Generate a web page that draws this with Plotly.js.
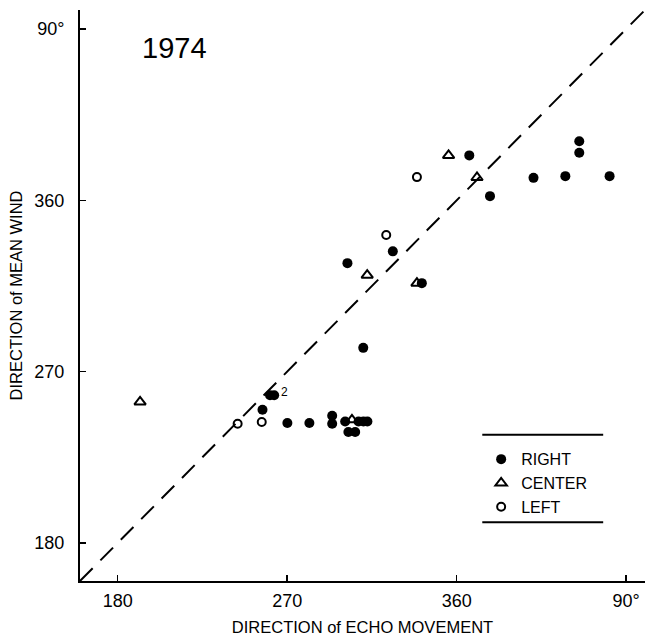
<!DOCTYPE html>
<html>
<head>
<meta charset="utf-8">
<script src="https://cdn.plot.ly/plotly-3.0.1.min.js"></script>
<style>html,body{margin:0;padding:0;background:#fff;}#chart{width:645px;height:641px;}</style>
</head>
<body>
<div id="chart"></div>
<script>
// Direction of echo movement (x) vs direction of mean wind (y), degrees; values above 360 wrap (450 = 90°)
const rightX = [366.7, 377.7, 400.8, 417.7, 441.2, 425.1, 425.1, 326.1, 302.0, 341.5, 310.4, 260.9, 263.1, 256.9, 270.1, 281.8, 293.9, 293.9, 300.8, 307.9, 310.5, 312.6, 302.5, 306.1];
const rightY = [383.6, 362.2, 371.8, 372.7, 372.7, 391.0, 385.0, 333.2, 327.0, 316.5, 282.5, 257.6, 257.6, 250.0, 243.0, 243.0, 246.8, 242.6, 243.8, 243.8, 243.8, 243.8, 238.3, 238.3];
const centerX = [355.7, 370.8, 312.5, 338.9, 304.4, 191.9];
const centerY = [383.6, 372.0, 320.7, 316.5, 244.7, 254.1];
const leftX = [338.9, 322.6, 243.7, 256.5];
const leftY = [372.2, 341.8, 242.6, 243.5];
const diagX = [160, 460];
const diagY = [160, 460];
const tickVals = [180, 270, 360, 450];
const tickText = ['180', '270', '360', '90°'];
const axisRange = [160, 460];

const FONT = 'Liberation Sans, Arial, sans-serif';

const traces = [
  {x: diagX, y: diagY, mode: 'lines', line: {color: '#000', width: 2, dash: '18px,11px'}, showlegend: false, hoverinfo: 'skip'},
  {x: rightX, y: rightY, mode: 'markers', name: 'RIGHT', marker: {symbol: 'circle', size: 10, color: '#000'}},
  {x: centerX, y: centerY, mode: 'markers', name: 'CENTER', marker: {symbol: 'triangle-up-open', size: 10, color: '#000', line: {width: 2, color: '#000'}}},
  {x: leftX, y: leftY, mode: 'markers', name: 'LEFT', marker: {symbol: 'circle-open', size: 8, color: '#000', line: {width: 2, color: '#000'}}}
];

const layout = {
  width: 645, height: 641,
  margin: {l: 80, r: 0, t: 10, b: 60},
  paper_bgcolor: '#fff', plot_bgcolor: '#fff',
  font: {family: FONT, color: '#000', size: 16},
  showlegend: true,
  legend: {x: 0.71, y: 0.243, xanchor: 'left', yanchor: 'top', font: {family: FONT, size: 16, color: '#000'}, bgcolor: 'rgba(0,0,0,0)', itemwidth: 30, tracegroupgap: 0},
  xaxis: {
    range: axisRange, tickmode: 'array', tickvals: tickVals, ticktext: tickText,
    showgrid: false, zeroline: false, showline: true, linecolor: '#000', linewidth: 2,
    ticks: 'inside', ticklen: 6, tickwidth: 1.5, tickcolor: '#000', ticklabelstandoff: 2,
    tickfont: {family: FONT, size: 18, color: '#000'},
    title: {text: 'DIRECTION of ECHO MOVEMENT', font: {family: FONT, size: 16.5, color: '#000'}, standoff: 12}
  },
  yaxis: {
    range: axisRange, tickmode: 'array', tickvals: tickVals, ticktext: tickText,
    showgrid: false, zeroline: false, showline: true, linecolor: '#000', linewidth: 2,
    ticks: 'inside', ticklen: 6, tickwidth: 1.5, tickcolor: '#000', ticklabelstandoff: 10,
    tickfont: {family: FONT, size: 18, color: '#000'},
    title: {text: 'DIRECTION of MEAN WIND', font: {family: FONT, size: 16.5, color: '#000'}, standoff: 8}
  },
  shapes: [
    {type: 'line', xref: 'paper', yref: 'paper', x0: 0.712, x1: 0.926, y0: 0.256, y1: 0.256, line: {color: '#000', width: 2}},
    {type: 'line', xref: 'paper', yref: 'paper', x0: 0.712, x1: 0.926, y0: 0.103, y1: 0.103, line: {color: '#000', width: 2}}
  ],
  annotations: [
    {xref: 'paper', yref: 'paper', x: 0.168, y: 0.933, text: '1974', showarrow: false, font: {family: FONT, size: 29, color: '#000'}, xanchor: 'center', yanchor: 'middle'},
    {x: 265.5, y: 259.5, text: '2', showarrow: false, font: {family: FONT, size: 12, color: '#000'}, xanchor: 'left', yanchor: 'middle'}
  ]
};

Plotly.newPlot('chart', traces, layout, {staticPlot: true, displayModeBar: false});
</script>
</body>
</html>
